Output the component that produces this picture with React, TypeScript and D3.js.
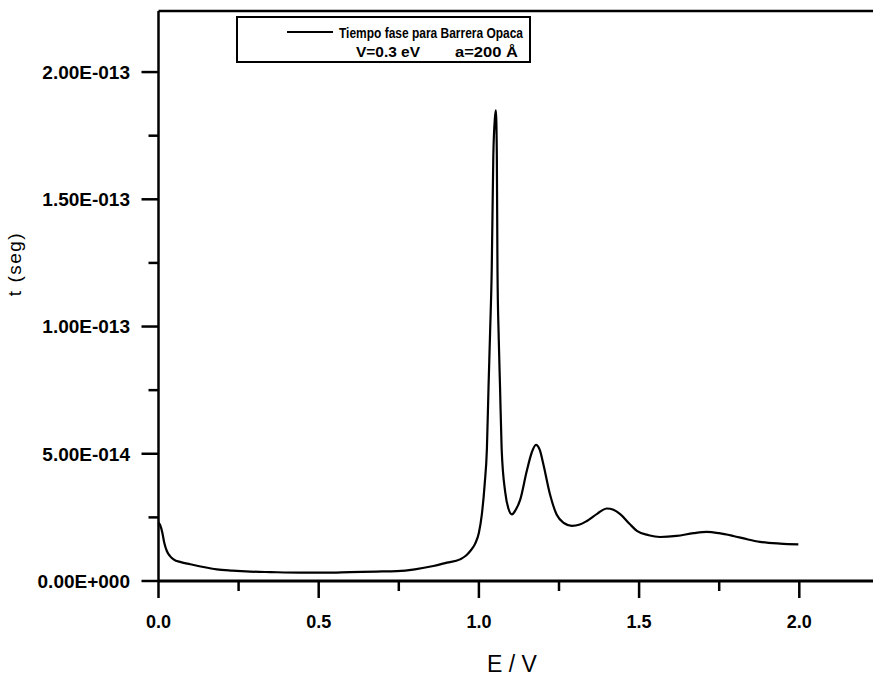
import React from 'react';
import * as d3 from 'd3';

// Data: energy E/V and phase time t (in units of 1e-14 s)
const energy = [
  0.000, 0.005, 0.012, 0.018, 0.026, 0.036, 0.047, 0.070, 0.099, 0.140,
  0.182, 0.230, 0.286, 0.350, 0.442, 0.520, 0.598, 0.680, 0.744, 0.800,
  0.858, 0.900, 0.941, 0.960, 0.973, 0.988, 1.000, 1.009, 1.018, 1.025,
  1.030, 1.035, 1.040, 1.045, 1.050, 1.053, 1.056, 1.058, 1.062, 1.066,
  1.071, 1.082, 1.092, 1.103, 1.115, 1.129, 1.149, 1.165, 1.178, 1.190,
  1.201, 1.222, 1.243, 1.265, 1.290, 1.315, 1.337, 1.370, 1.399, 1.420,
  1.441, 1.470, 1.493, 1.530, 1.565, 1.617, 1.670, 1.711, 1.750, 1.794,
  1.840, 1.877, 1.940, 1.997,
];
const timeE14 = [
  2.30, 2.20, 1.90, 1.50, 1.18, 0.98, 0.85, 0.74, 0.66, 0.55,
  0.46, 0.41, 0.37, 0.35, 0.33, 0.33, 0.35, 0.37, 0.39, 0.46,
  0.59, 0.72, 0.85, 1.00, 1.18, 1.46, 1.90, 2.60, 3.80, 5.20,
  7.60, 9.80, 12.2, 16.7, 18.2, 18.5, 16.7, 12.2, 9.50, 7.60,
  5.20, 3.50, 2.85, 2.62, 2.80, 3.20, 4.30, 5.05, 5.35, 5.15,
  4.60, 3.40, 2.60, 2.28, 2.17, 2.22, 2.36, 2.65, 2.85, 2.80,
  2.63, 2.25, 1.97, 1.80, 1.73, 1.77, 1.88, 1.93, 1.88, 1.77,
  1.63, 1.54, 1.47, 1.44,
];

const xMajor = [0, 0.5, 1.0, 1.5, 2.0];
const xMinor = [0.25, 0.75, 1.25, 1.75];
const xTickLabels = ['0.0', '0.5', '1.0', '1.5', '2.0'];
const yMajor = [0, 5e-14, 1e-13, 1.5e-13, 2e-13];
const yMinor = [2.5e-14, 7.5e-14, 1.25e-13, 1.75e-13];
const yTickLabels = ['0.00E+000', '5.00E-014', '1.00E-013', '1.50E-013', '2.00E-013'];

const legendTitle = 'Tiempo fase para Barrera Opaca';
const legendParams = ['V=0.3 eV', 'a=200 Å'];
const xTitle = 'E / V';
const yTitle = 't (seg)';

const W = 873;
const H = 677;
const font = '"Liberation Sans", Arial, sans-serif';

export default function App() {
  const x = d3.scaleLinear().domain([0, 2.25]).range([158.5, 879.4]);
  const y = d3.scaleLinear().domain([0, 2.24e-13]).range([581, 11]);
  const pts = energy.map((e, i) => [e, timeE14[i] * 1e-14] as [number, number]);
  const line = d3
    .line<[number, number]>()
    .x((d) => x(d[0]))
    .y((d) => y(d[1]))
    .curve(d3.curveMonotoneX);

  const x0 = x(0);
  const y0 = y(0);
  const yTop = y(2.24e-13);
  const majLen = 17;
  const minLen = 10;

  return (
    <svg
      width={W}
      height={H}
      style={{ position: 'absolute', left: 0, top: 0, background: '#fff' }}
      fontFamily={font}
    >
      <rect x={0} y={0} width={W} height={H} fill="#fff" />
      {/* curve */}
      <path d={line(pts) || ''} fill="none" stroke="#000" strokeWidth={2.2} strokeLinejoin="round" />

      {/* frame lines */}
      <line x1={x0} x2={W} y1={yTop} y2={yTop} stroke="#000" strokeWidth={2.5} />
      <line x1={x0} x2={x0} y1={yTop} y2={y0} stroke="#000" strokeWidth={2.5} />
      <line x1={x0} x2={W} y1={y0} y2={y0} stroke="#000" strokeWidth={3} />

      {/* x ticks */}
      {xMajor.map((v, i) => (
        <g key={'xm' + i}>
          <line x1={x(v)} x2={x(v)} y1={y0} y2={y0 + majLen} stroke="#000" strokeWidth={2.5} />
          <text x={x(v)} y={y0 + 47} textAnchor="middle" fontSize={18} fontWeight="bold">
            {xTickLabels[i]}
          </text>
        </g>
      ))}
      {xMinor.map((v, i) => (
        <line key={'xn' + i} x1={x(v)} x2={x(v)} y1={y0} y2={y0 + minLen} stroke="#000" strokeWidth={2.5} />
      ))}

      {/* y ticks */}
      {yMajor.map((v, i) => (
        <g key={'ym' + i}>
          <line x1={x0 - majLen} x2={x0} y1={y(v)} y2={y(v)} stroke="#000" strokeWidth={2.5} />
          <text x={130} y={y(v)} dy="0.36em" textAnchor="end" fontSize={19} fontWeight="bold">
            {yTickLabels[i]}
          </text>
        </g>
      ))}
      {yMinor.map((v, i) => (
        <line key={'yn' + i} x1={x0 - minLen} x2={x0} y1={y(v)} y2={y(v)} stroke="#000" strokeWidth={2.5} />
      ))}

      {/* axis titles */}
      <text x={512} y={672} textAnchor="middle" fontSize={23}>
        {xTitle}
      </text>
      <text
        transform={`translate(21, 264) rotate(-90)`}
        textAnchor="middle"
        fontSize={19}
        letterSpacing={1.5}
      >
        {yTitle}
      </text>

      {/* legend */}
      <rect x={237} y={17} width={293} height={45} fill="#fff" stroke="#000" strokeWidth={2} />
      <line x1={287} x2={333} y1={32} y2={32} stroke="#000" strokeWidth={2} />
      <text x={339} y={38} fontSize={15} fontWeight="bold" textLength={184} lengthAdjust="spacingAndGlyphs">
        {legendTitle}
      </text>
      <text x={356} y={57} fontSize={15} fontWeight="bold" textLength={64} lengthAdjust="spacingAndGlyphs">
        {legendParams[0]}
      </text>
      <text x={455} y={57} fontSize={15} fontWeight="bold" textLength={63} lengthAdjust="spacingAndGlyphs">
        {legendParams[1]}
      </text>
    </svg>
  );
}
